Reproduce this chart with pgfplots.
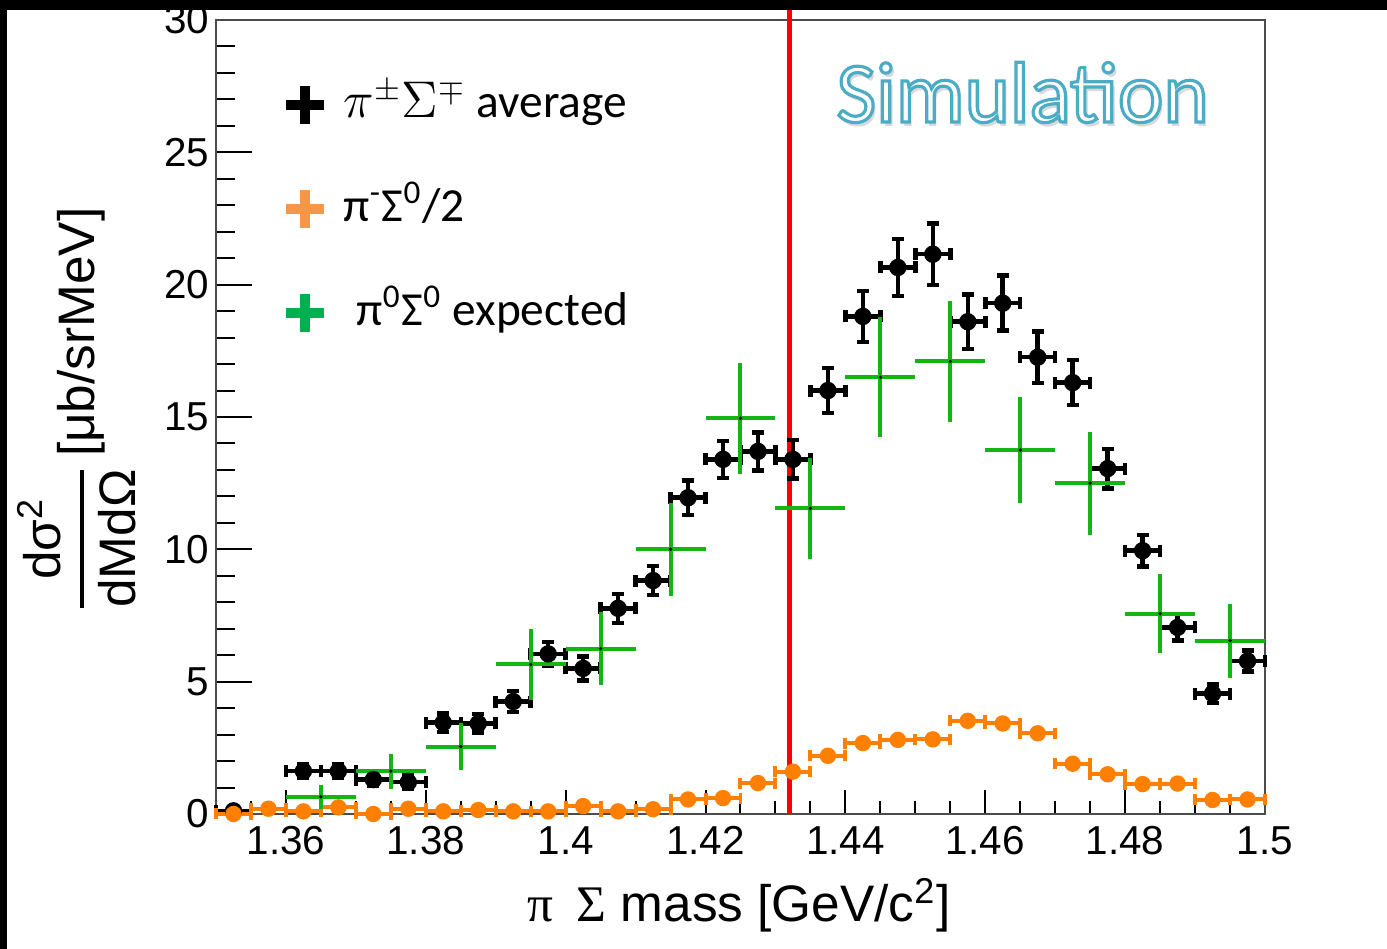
\documentclass[border=0pt]{standalone}
\usepackage{amsmath}
\usepackage{fontspec}
\setmainfont{Liberation Sans}
\newfontfamily\carlito{Carlito}
\newfontfamily\lserif{Liberation Serif}
\usepackage{pgfplots}
\pgfplotsset{compat=1.18}
\usepackage{pgfplotstable}
\definecolor{rootorange}{RGB}{255,128,0}
\definecolor{rootgreen}{RGB}{20,180,20}
\definecolor{legorange}{HTML}{F79646}
\definecolor{leggreen}{HTML}{00B050}
\definecolor{framegray}{gray}{0.3}

\pgfplotstableread{
x ex y ey
1.3525 0.0025 0.12 0.10
1.3625 0.0025 1.62 0.25
1.3675 0.0025 1.62 0.25
1.3725 0.0025 1.30 0.25
1.3775 0.0025 1.20 0.25
1.3825 0.0025 3.45 0.35
1.3875 0.0025 3.42 0.35
1.3925 0.0025 4.25 0.40
1.3975 0.0025 6.05 0.45
1.4025 0.0025 5.50 0.45
1.4075 0.0025 7.77 0.55
1.4125 0.0025 8.82 0.55
1.4175 0.0025 11.95 0.65
1.4225 0.0025 13.40 0.70
1.4275 0.0025 13.70 0.72
1.4325 0.0025 13.40 0.73
1.4375 0.0025 16.00 0.85
1.4425 0.0025 18.80 0.96
1.4475 0.0025 20.65 1.07
1.4525 0.0025 21.15 1.17
1.4575 0.0025 18.60 1.03
1.4625 0.0025 19.30 1.04
1.4675 0.0025 17.26 0.98
1.4725 0.0025 16.30 0.85
1.4775 0.0025 13.05 0.75
1.4825 0.0025 9.95 0.60
1.4875 0.0025 7.05 0.50
1.4925 0.0025 4.55 0.35
1.4975 0.0025 5.78 0.40
}\blackdata

\pgfplotstableread{
x ex y ey
1.3525 0.0025 0.00 0.08
1.3575 0.0025 0.20 0.08
1.3625 0.0025 0.10 0.08
1.3675 0.0025 0.25 0.08
1.3725 0.0025 0.00 0.08
1.3775 0.0025 0.20 0.08
1.3825 0.0025 0.10 0.08
1.3875 0.0025 0.15 0.08
1.3925 0.0025 0.10 0.08
1.3975 0.0025 0.10 0.08
1.4025 0.0025 0.30 0.08
1.4075 0.0025 0.10 0.08
1.4125 0.0025 0.18 0.08
1.4175 0.0025 0.55 0.10
1.4225 0.0025 0.60 0.10
1.4275 0.0025 1.17 0.12
1.4325 0.0025 1.60 0.12
1.4375 0.0025 2.20 0.14
1.4425 0.0025 2.68 0.15
1.4475 0.0025 2.80 0.15
1.4525 0.0025 2.82 0.15
1.4575 0.0025 3.52 0.16
1.4625 0.0025 3.42 0.16
1.4675 0.0025 3.05 0.15
1.4725 0.0025 1.90 0.12
1.4775 0.0025 1.50 0.12
1.4825 0.0025 1.13 0.10
1.4875 0.0025 1.15 0.10
1.4925 0.0025 0.53 0.08
1.4975 0.0025 0.55 0.08
}\orangedata

\pgfplotstableread{
x ex y ey
1.365 0.005 0.65 0.45
1.375 0.005 1.62 0.66
1.385 0.005 2.55 0.90
1.395 0.005 5.65 1.35
1.405 0.005 6.25 1.37
1.415 0.005 10.00 1.75
1.425 0.005 14.95 2.10
1.435 0.005 11.55 1.90
1.445 0.005 16.50 2.26
1.455 0.005 17.10 2.30
1.465 0.005 13.75 2.00
1.475 0.005 12.50 1.95
1.485 0.005 7.57 1.50
1.495 0.005 6.55 1.40
}\greendata

\begin{document}
\begin{tikzpicture}
\path[use as bounding box] (0,0) rectangle (138.7mm,94.9mm);
\fill[white] (0,0) rectangle (138.7mm,94.9mm);
\begin{axis}[
  at={(21.6mm,13.5mm)}, anchor=south west,
  scale only axis, width=104.9mm, height=79.4mm,
  xmin=1.35, xmax=1.5, ymin=0, ymax=30,
  clip=false,
  axis line style={framegray, line width=0.2mm},
  xtick pos=bottom, ytick pos=left,
  tick align=inside,
  tick style={black, line width=0.2mm},
  major tick length=3.6mm, minor tick length=1.9mm,
  xtick style={/pgfplots/major tick length=2.4mm, /pgfplots/minor tick length=1.3mm},
  xtick={1.36,1.38,1.40,1.42,1.44,1.46,1.48,1.50},
  xticklabels={1.36,1.38,1.4,1.42,1.44,1.46,1.48,1.5},
  minor xtick={1.355,1.365,1.37,1.375,1.385,1.39,1.395,1.405,1.41,1.415,1.425,1.43,1.435,1.445,1.45,1.455,1.465,1.47,1.475,1.485,1.49,1.495},
  ytick={0,5,10,15,20,25,30},
  minor y tick num=4,
  ticklabel style={font=\fontsize{11.5}{13}\selectfont},
  /pgf/number format/assume math mode=true,
  yticklabel style={xshift=0.55mm},
  xlabel={{\lserif π\hspace{0.45em}Σ} mass [GeV/c\textsuperscript{2}]},
  xlabel style={at={(axis description cs:0.4986,-0.115)}, anchor=center, font=\fontsize{14.6}{17}\selectfont},
  ylabel={$\genfrac{}{}{1.3pt}{0}{\hbox{dσ\textsuperscript{2}}}{\hbox{dMdΩ}}$\,[μb/srMeV]},
  ylabel style={at={(axis description cs:-0.133,0.509)}, anchor=center, font=\fontsize{14.6}{17}\selectfont},
  legend style={at={(0.061,0.9244)}, anchor=north west, draw=none, fill=none, inner sep=0pt,
    font=\carlito\fontsize{13.5}{15}\selectfont, row sep=5.6mm, column sep=1.5mm,
    nodes={inner sep=0pt, text height=3.2mm, text depth=1mm}},
  legend cell align=left,
]
\addlegendimage{black, line width=1mm, legend image code/.code={\draw (-1.9mm,0)--(1.9mm,0) (0,-1.9mm)--(0,1.9mm);}}
\addlegendentry{\scalebox{1.02}{$\pi^{\pm}\Sigma^{\mp}$} average}
\addlegendimage{legorange, line width=1mm, legend image code/.code={\draw (-1.9mm,0)--(1.9mm,0) (0,-1.9mm)--(0,1.9mm);}}
\addlegendentry{π\textsuperscript{-}Σ\textsuperscript{0}/2}
\addlegendimage{leggreen, line width=1mm, legend image code/.code={\draw (-1.9mm,0)--(1.9mm,0) (0,-1.9mm)--(0,1.9mm);}}
\addlegendentry{\hspace{1.3mm}π\textsuperscript{0}Σ\textsuperscript{0} expected}

\addplot[red, line width=0.45mm, forget plot] coordinates {(1.432,0) (1.432,30.5)};

\addplot[black, only marks, mark=*, mark size=0.8mm, forget plot,
  error bars/.cd, x dir=both, x explicit, y dir=both, y explicit,
  error mark=-,
  error bar style={line width=0.45mm, black},
  error mark options={rotate=90, line width=0.45mm, mark size=0.6mm, black}]
  table[x=x, y=y, x error=ex, y error=ey] {\blackdata};

\addplot[rootorange, only marks, mark=*, mark size=0.75mm, forget plot,
  error bars/.cd, x dir=both, x explicit, y dir=both, y explicit,
  error mark=-,
  error bar style={line width=0.4mm, rootorange},
  error mark options={rotate=90, line width=0.4mm, mark size=0.55mm, rootorange}]
  table[x=x, y=y, x error=ex, y error=ey] {\orangedata};

\addplot[black, only marks, mark=*, mark size=0.25pt, forget plot,
  error bars/.cd, x dir=both, x explicit, y dir=both, y explicit,
  error mark=none,
  error bar style={line width=0.4mm, rootgreen}]
  table[x=x, y=y, x error=ex, y error=ey] {\greendata};

\node[anchor=base, font=\carlito\fontsize{24.5}{28}\selectfont, text=black!15]
  at ([xshift=0.3mm,yshift=-0.4mm]rel axis cs:0.769,0.8715) {Simulation};
\node[anchor=base, font=\carlito\fontsize{24.5}{28}\selectfont, text=white]
  at (rel axis cs:0.769,0.8715) {\special{pdf:literal direct 0.294 0.675 0.776 RG 2 Tr 0.9 w}Simulation\special{pdf:literal direct 0 Tr 0 G}};
\end{axis}
\fill[black] (0,93.9mm) rectangle (138.7mm,94.9mm);
\fill[black] (0,0) rectangle (0.7mm,94.9mm);
\end{tikzpicture}
\end{document}
